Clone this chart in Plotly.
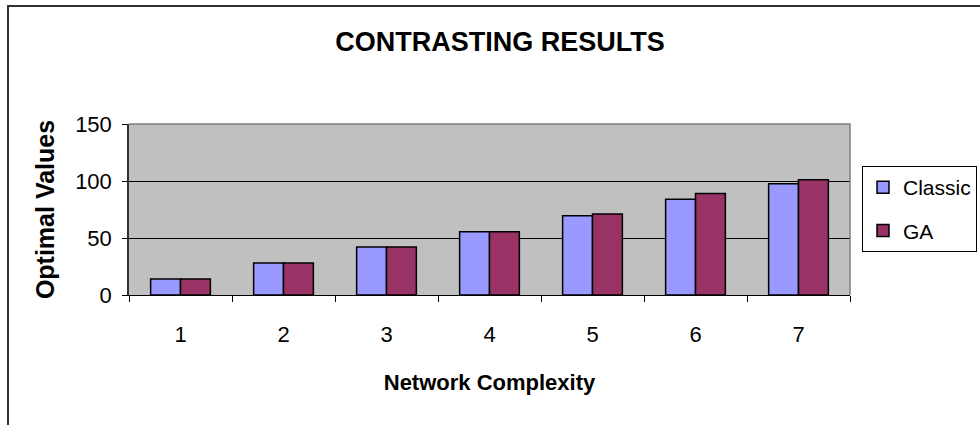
import plotly.graph_objects as go

# Network complexity levels on the x axis
categories = ["1", "2", "3", "4", "5", "6", "7"]

# Optimal values found by each method
classic_values = [14, 28, 42, 55.5, 69.5, 84, 97.5]
ga_values = [14, 28, 42, 55.5, 71, 89, 101]

y_ticks = [0, 50, 100, 150]

FONT = "Liberation Sans, Arial, sans-serif"

W, H = 980, 425
L, R, T, B = 129, 130, 124, 130
PW, PH = W - L - R, H - T - B


def px_x(x):
    return (x - L) / PW


def px_y(y):
    return 1 - (y - T) / PH


fig = go.Figure()
fig.add_trace(go.Bar(
    x=categories, y=classic_values, name="Classic",
    marker=dict(color="#9999FF", line=dict(color="#000000", width=1.5)),
    legendgroup="c",
))
fig.add_trace(go.Bar(
    x=categories, y=ga_values, name="GA",
    marker=dict(color="#993366", line=dict(color="#000000", width=1.5)),
    legendgroup="g",
))

shapes = [
    # gray frame on top and right of the plot area
    dict(type="path", xref="paper", yref="paper",
         path="M 0,1 L 1,1 L 1,0", line=dict(color="#808080", width=1.5),
         layer="above"),
    # outer chart border
    dict(type="rect", xref="paper", yref="paper",
         x0=px_x(8), x1=px_x(995), y0=px_y(440), y1=px_y(6),
         line=dict(color="#333333", width=2), layer="above"),
]

fig.update_layout(
    width=W, height=H,
    margin=dict(l=L, r=R, t=T, b=B, autoexpand=False),
    paper_bgcolor="white",
    plot_bgcolor="#C0C0C0",
    font=dict(family=FONT, color="black", size=22),
    barmode="group",
    bargap=0.42,
    bargroupgap=0,
    title=dict(text="<b>CONTRASTING RESULTS</b>", x=500 / W, xanchor="center",
               y=1 - 42 / H, yanchor="middle", yref="container",
               font=dict(family=FONT, size=27, color="black")),
    xaxis=dict(
        type="category", tickson="boundaries", ticks="outside", ticklen=6,
        tickcolor="#000000", tickwidth=1, showline=True, linecolor="#000000",
        linewidth=1, showgrid=False, ticklabelstandoff=20,
        tickfont=dict(size=22),
        title=dict(text="<b>Network Complexity</b>", standoff=28,
                   font=dict(size=22)),
    ),
    yaxis=dict(
        range=[0, 150], tickvals=y_ticks, ticks="outside", ticklen=5,
        tickcolor="#000000", showline=True, linecolor="#333333", linewidth=1.5,
        showgrid=True, gridcolor="#000000", gridwidth=1, zeroline=False,
        ticklabelstandoff=6, tickfont=dict(size=22),
        title=dict(text="<b>Optimal Values</b>", standoff=13,
                   font=dict(size=25)),
    ),
    legend=dict(
        x=px_x(862), xanchor="left", y=px_y(166), yanchor="top",
        bgcolor="white", bordercolor="#000000", borderwidth=1,
        font=dict(size=21), tracegroupgap=13,
    ),
    shapes=shapes,
)

fig.write_html("out.html")
